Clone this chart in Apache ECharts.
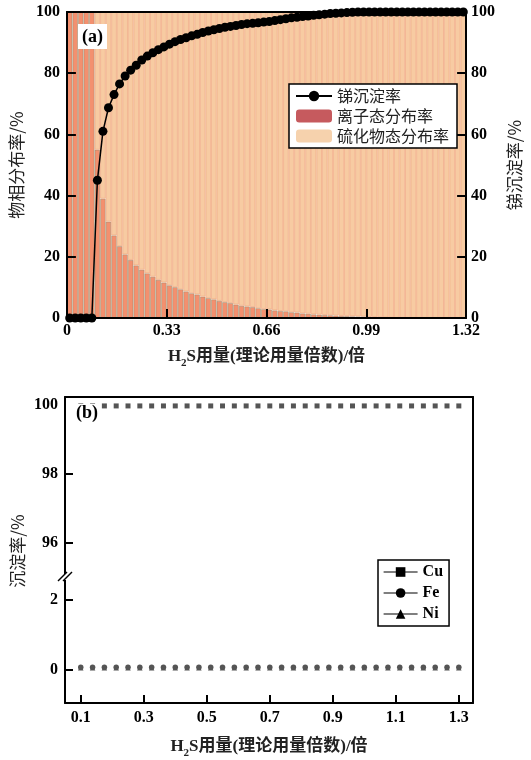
<!DOCTYPE html>
<html><head><meta charset="utf-8">
<script src="https://cdn.jsdelivr.net/npm/echarts@6/dist/echarts.min.js"></script>
<style>html,body{margin:0;padding:0;background:#fff}#c{width:531px;height:760px}</style>
</head><body><div id="c"></div>
<script>
// ---------- Panel (a) data ----------
const dosageA = [0.009,0.028,0.046,0.064,0.083,0.101,0.119,0.138,0.156,0.174,0.193,0.211,0.229,0.248,0.266,0.284,0.303,0.321,0.339,0.358,0.376,0.394,0.413,0.431,0.449,0.468,0.486,0.504,0.523,0.541,0.559,0.578,0.596,0.614,0.633,0.651,0.669,0.688,0.706,0.724,0.743,0.761,0.779,0.798,0.816,0.834,0.853,0.871,0.889,0.908,0.926,0.944,0.963,0.981,0.999,1.018,1.036,1.054,1.073,1.091,1.109,1.128,1.146,1.164,1.183,1.201,1.219,1.238,1.256,1.274,1.293,1.311];
const ionRate = [100,100,100,100,100,55,39,31.5,27,23.5,20.8,19,17.2,15.8,14.6,13.5,12.5,11.6,10.7,10.1,9.4,8.7,8.1,7.7,7.0,6.5,6.1,5.6,5.2,4.9,4.4,4.0,3.8,3.6,3.2,2.9,2.8,2.5,2.3,2.2,1.9,1.8,1.5,1.4,1.2,1.1,1.0,0.9,0.8,0.7,0.65,0.55,0.5,0.45,0.35,0.3,0.25,0.15,0.1,0.05,0.05,0.05,0.05,0.05,0.05,0.05,0.05,0.05,0.05,0.05,0.05,0.05];
const sulfideRate = [0,0,0,0,0,45,61,68.5,73,76.5,79.2,81,82.8,84.2,85.4,86.5,87.5,88.4,89.3,89.9,90.6,91.3,91.9,92.3,93.0,93.5,93.9,94.4,94.8,95.1,95.6,96.0,96.2,96.4,96.8,97.1,97.2,97.5,97.7,97.8,98.1,98.2,98.5,98.6,98.8,98.9,99.0,99.1,99.2,99.3,99.35,99.45,99.5,99.55,99.65,99.7,99.75,99.85,99.9,99.95,99.95,99.95,99.95,99.95,99.95,99.95,99.95,99.95,99.95,99.95,99.95,99.95];
const sbRate = [0,0,0,0,0,45,61,68.7,73,76.5,79.1,81,82.6,84.3,85.6,86.7,87.7,88.6,89.5,90.3,91.0,91.6,92.2,92.7,93.3,93.8,94.2,94.6,95.0,95.3,95.6,95.9,96.2,96.3,96.5,96.7,96.9,97.2,97.5,97.8,98.1,98.3,98.5,98.7,98.9,99.1,99.3,99.5,99.6,99.7,99.8,99.9,100,100,100,100,100,100,100,100,100,100,100,100,100,100,100,100,100,100,100,100];
const yTicksA = [0,20,40,60,80,100];
// ---------- Panel (b) data ----------
const dosageB = [0.1,0.1375,0.175,0.2125,0.25,0.2875,0.325,0.3625,0.4,0.4375,0.475,0.5125,0.55,0.5875,0.625,0.6625,0.7,0.7375,0.775,0.8125,0.85,0.8875,0.925,0.9625,1.0,1.0375,1.075,1.1125,1.15,1.1875,1.225,1.2625,1.3];
const cuRate = [99.98,99.98,99.98,99.98,99.98,99.98,99.98,99.98,99.98,99.98,99.98,99.98,99.98,99.98,99.98,99.98,99.98,99.98,99.98,99.98,99.98,99.98,99.98,99.98,99.98,99.98,99.98,99.98,99.98,99.98,99.98,99.98,99.98];
const feRate = [0.06,0.06,0.06,0.06,0.06,0.06,0.06,0.06,0.06,0.06,0.06,0.06,0.06,0.06,0.06,0.06,0.06,0.06,0.06,0.06,0.06,0.06,0.06,0.06,0.06,0.06,0.06,0.06,0.06,0.06,0.06,0.06,0.06];
const niRate = [0.05,0.05,0.05,0.05,0.05,0.05,0.05,0.05,0.05,0.05,0.05,0.05,0.05,0.05,0.05,0.05,0.05,0.05,0.05,0.05,0.05,0.05,0.05,0.05,0.05,0.05,0.05,0.05,0.05,0.05,0.05,0.05,0.05];
const xTicksB = [0.1,0.3,0.5,0.7,0.9,1.1,1.3];
const yUpperLabels = [96,98,100];
const yUpperTicks = [96,98];
const yLowerTicks = [0,2];

const SERIF = "'Liberation Serif','Times New Roman','Noto Sans CJK SC',serif";
const CJK = "'Noto Sans CJK SC','Liberation Serif',sans-serif";
const lbl = {fontFamily: SERIF, fontWeight: 'bold', fontSize: 16, color: '#000'};
const aLine = {show: true, onZero: false, lineStyle: {color: '#000', width: 2}};
const tick = (len, extra) => Object.assign({show: true, inside: true, length: len, lineStyle: {color: '#000', width: 2}}, extra || {});
const xName = {
  name: '{h|H}{s|2}{h|S用量(理论用量倍数)/倍}',
  nameLocation: 'middle',
  nameTextStyle: {rich: {
    h: {fontFamily: SERIF, fontWeight: 'bold', fontSize: 17, color: '#222', lineHeight: 24},
    s: {fontFamily: SERIF, fontWeight: 'bold', fontSize: 11, color: '#222', lineHeight: 14, verticalAlign: 'bottom'}
  }}
};

const chart = echarts.init(document.getElementById('c'));
const option = {
  animation: false,
  backgroundColor: '#fff',
  grid: [
    {left: 65, top: 12, width: 408, height: 306},
    {left: 65, top: 397, width: 408, height: 180},
    {left: 65, top: 577, width: 408, height: 126}
  ],
  xAxis: [
    {type: 'category', gridIndex: 0, data: dosageA, show: false, boundaryGap: true},
    Object.assign({type: 'value', gridIndex: 0, min: 0, max: 1.32, interval: 0.33, position: 'bottom', z: 5,
      axisLine: aLine, axisTick: tick(9), splitLine: {show: false},
      axisLabel: Object.assign({}, lbl, {margin: 5, formatter: v => v === 0 ? '0' : v.toFixed(2)}),
      nameGap: 27}, xName),
    {type: 'value', gridIndex: 0, min: 0, max: 1.32, position: 'top', z: 5, axisLine: aLine,
      axisTick: {show: false}, axisLabel: {show: false}, splitLine: {show: false}},
    {type: 'value', gridIndex: 1, min: 0.05, max: 1.345, position: 'top', z: 5, axisLine: aLine,
      axisTick: {show: false}, axisLabel: {show: false}, splitLine: {show: false}},
    Object.assign({type: 'value', gridIndex: 2, min: 0.05, max: 1.345, position: 'bottom', z: 5,
      axisLine: aLine, axisTick: tick(8, {customValues: xTicksB}), splitLine: {show: false},
      axisLabel: Object.assign({}, lbl, {margin: 7, customValues: xTicksB, formatter: v => v.toFixed(1)}),
      nameGap: 32}, xName)
  ],
  yAxis: [
    {type: 'value', gridIndex: 0, min: 0, max: 100, interval: 20, position: 'left', z: 5,
      axisLine: aLine, axisTick: tick(9), splitLine: {show: false},
      axisLabel: Object.assign({}, lbl, {margin: 7}),
      name: '物相分布率/%', nameLocation: 'middle', nameGap: 38, nameRotate: 90,
      nameTextStyle: {fontFamily: CJK, fontSize: 17, color: '#222'}},
    {type: 'value', gridIndex: 0, min: 0, max: 100, interval: 20, position: 'right', z: 5,
      axisLine: aLine, axisTick: tick(9), splitLine: {show: false},
      axisLabel: Object.assign({}, lbl, {margin: 5}),
      name: '锑沉淀率/%', nameLocation: 'middle', nameGap: 36, nameRotate: 90,
      nameTextStyle: {fontFamily: CJK, fontSize: 17, color: '#222'}},
    {type: 'value', gridIndex: 1, min: 95, max: 100.24, position: 'left', z: 5,
      axisLine: aLine, axisTick: tick(8, {customValues: yUpperTicks}), splitLine: {show: false},
      axisLabel: Object.assign({}, lbl, {margin: 7, customValues: yUpperLabels})},
    {type: 'value', gridIndex: 1, min: 95, max: 100.24, position: 'right', z: 5,
      axisLine: aLine, axisTick: {show: false}, axisLabel: {show: false}, splitLine: {show: false}},
    {type: 'value', gridIndex: 2, min: -0.96, max: 2.64, position: 'left', z: 5,
      axisLine: aLine, axisTick: tick(8, {customValues: yLowerTicks}), splitLine: {show: false},
      axisLabel: Object.assign({}, lbl, {margin: 7, customValues: yLowerTicks})},
    {type: 'value', gridIndex: 2, min: -0.96, max: 2.64, position: 'right', z: 5,
      axisLine: aLine, axisTick: {show: false}, axisLabel: {show: false}, splitLine: {show: false}}
  ],
  legend: [
    {orient: 'vertical', left: 289, top: 84, padding: [4, 8, 4, 6], backgroundColor: '#fff',
      borderColor: '#000', borderWidth: 1.5, itemWidth: 36, itemHeight: 13, itemGap: 4,
      textStyle: {fontFamily: CJK, fontSize: 16, color: '#222'},
      data: [
        {name: '锑沉淀率'},
        {name: '离子态分布率', itemStyle: {color: '#c65a5e', borderWidth: 0}},
        {name: '硫化物态分布率', itemStyle: {color: '#f6d2ad', borderWidth: 0}}
      ]},
    {orient: 'vertical', left: 378, top: 560, padding: [4, 6, 4, 5], backgroundColor: '#fff',
      borderColor: '#000', borderWidth: 1.5, itemWidth: 34, itemHeight: 12, itemGap: 5,
      textStyle: {fontFamily: SERIF, fontWeight: 'bold', fontSize: 16, color: '#000'},
      itemStyle: {color: '#000'}, lineStyle: {color: '#000', width: 1.2, opacity: 1},
      data: ['Cu', 'Fe', 'Ni']}
  ],
  series: [
    {name: '离子态分布率', type: 'bar', stack: 'dist', xAxisIndex: 0, yAxisIndex: 0, barCategoryGap: 0,
      data: ionRate, itemStyle: {color: '#f3906f', borderColor: 'rgba(130,140,110,0.55)', borderWidth: 0.8}, z: 2},
    {name: '硫化物态分布率', type: 'bar', stack: 'dist', xAxisIndex: 0, yAxisIndex: 0, barCategoryGap: 0,
      data: sulfideRate, itemStyle: {color: '#f7cba2', borderColor: '#f1ad88', borderWidth: 0.8}, z: 2},
    {name: '锑沉淀率', type: 'line', xAxisIndex: 0, yAxisIndex: 1, data: sbRate, showAllSymbol: true,
      symbol: 'circle', symbolSize: 9, lineStyle: {color: '#000', width: 1.5}, itemStyle: {color: '#000'}, z: 10},
    {name: 'Cu', type: 'line', xAxisIndex: 3, yAxisIndex: 2, data: dosageB.map((x, i) => [x, cuRate[i]]), showAllSymbol: true,
      symbol: 'rect', symbolSize: 5, itemStyle: {color: '#555'}, lineStyle: {opacity: 0, width: 0}, z: 10},
    {name: 'Fe', type: 'line', xAxisIndex: 4, yAxisIndex: 4, data: dosageB.map((x, i) => [x, feRate[i]]), showAllSymbol: true,
      symbol: 'circle', symbolSize: 5.5, itemStyle: {color: '#555'}, lineStyle: {opacity: 0, width: 0}, z: 10},
    {name: 'Ni', type: 'line', xAxisIndex: 4, yAxisIndex: 4, data: dosageB.map((x, i) => [x, niRate[i]]), showAllSymbol: true,
      symbol: 'triangle', symbolSize: 5.5, itemStyle: {color: '#555'}, lineStyle: {opacity: 0, width: 0}, z: 10}
  ],
  graphic: [
    {type: 'text', left: 78, top: 24, z: 100, style: {text: '(a)', font: 'bold 18px ' + SERIF, fill: '#000', backgroundColor: '#fff', padding: [4, 4, 3, 4]}},
    {type: 'text', left: 75, top: 404, z: 100, style: {text: '(b)', font: 'bold 18px ' + SERIF, fill: '#000', backgroundColor: '#fff', padding: [0, 1, 0, 1]}},
    {type: 'text', x: 18, y: 551, rotation: Math.PI / 2, z: 100, style: {text: '沉淀率/%', font: '17px ' + CJK, fill: '#222', align: 'center', verticalAlign: 'middle'}},
    {type: 'rect', shape: {x: 62, y: 574, width: 6, height: 6}, z: 100, style: {fill: '#fff'}},
    {type: 'line', shape: {x1: 58, y1: 581, x2: 67, y2: 572}, z: 101, style: {stroke: '#000', lineWidth: 1.5}},
    {type: 'line', shape: {x1: 63, y1: 581, x2: 72, y2: 572}, z: 101, style: {stroke: '#000', lineWidth: 1.5}}
  ]
};
chart.setOption(option);
</script>
</body></html>
